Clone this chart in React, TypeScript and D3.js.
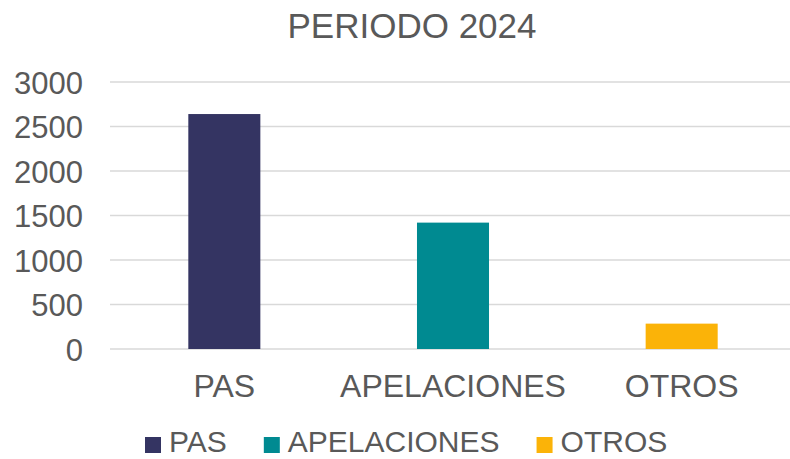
import React, { useEffect, useRef } from 'react';
import * as d3 from 'd3';

const WIDTH = 790;
const HEIGHT = 459;
const PLOT = { left: 110, right: 796, top: 82, bottom: 349 };

const categories = ['PAS', 'APELACIONES', 'OTROS'];
const values = [2640, 1420, 285];
const colors = ['#343462', '#008A91', '#FBB308'];
const yTicks = [0, 500, 1000, 1500, 2000, 2500, 3000];
const title = 'PERIODO 2024';

const TEXT = '#595959';
const FONT = 'Liberation Sans, Arial, sans-serif';

export default function App() {
  const ref = useRef<SVGSVGElement>(null);

  useEffect(() => {
    if (!ref.current) return;
    const svg = d3.select(ref.current);
    svg.selectAll('*').remove();

    const x = d3
      .scaleBand<string>()
      .domain(categories)
      .range([PLOT.left, PLOT.right])
      .paddingInner(0.685)
      .paddingOuter(0.3425);

    const y = d3.scaleLinear().domain([0, 3000]).range([PLOT.bottom, PLOT.top]);

    // title
    svg
      .append('text')
      .attr('x', 412)
      .attr('y', 38)
      .attr('text-anchor', 'middle')
      .style('font-family', FONT)
      .style('font-size', '35px')
      .style('fill', TEXT)
      .text(title);

    // gridlines
    svg
      .append('g')
      .selectAll('line')
      .data(yTicks)
      .enter()
      .append('line')
      .attr('x1', PLOT.left)
      .attr('x2', PLOT.right)
      .attr('y1', (d) => y(d))
      .attr('y2', (d) => y(d))
      .attr('stroke', '#D9D9D9')
      .attr('stroke-width', 1.5);

    // y axis labels
    const yAxis = d3
      .axisLeft(y)
      .tickValues(yTicks)
      .tickSize(0)
      .tickPadding(0)
      .tickFormat((d) => String(d));
    const yg = svg
      .append('g')
      .attr('transform', `translate(83, 0)`)
      .call(yAxis);
    yg.select('.domain').remove();
    yg.selectAll('.tick text')
      .attr('fill', TEXT)
      .style('font-family', FONT)
      .style('font-size', '31px')
      .attr('dy', '0.36em');

    // bars
    svg
      .append('g')
      .selectAll('rect')
      .data(values)
      .enter()
      .append('rect')
      .attr('x', (_, i) => x(categories[i])!)
      .attr('width', x.bandwidth())
      .attr('y', (d) => y(d))
      .attr('height', (d) => y(0) - y(d))
      .attr('fill', (_, i) => colors[i]);

    // x axis labels
    const xAxis = d3.axisBottom(x).tickSize(0).tickPadding(0);
    const xg = svg
      .append('g')
      .attr('transform', `translate(0, ${PLOT.bottom})`)
      .call(xAxis);
    xg.select('.domain').remove();
    xg.selectAll('.tick text')
      .attr('fill', TEXT)
      .attr('y', 48)
      .attr('dy', 0)
      .style('font-family', FONT)
      .style('font-size', '32px');

    // legend, laid out from the measured text widths
    const legend = svg.append('g').attr('transform', 'translate(145, 437)');
    let cx = 0;
    categories.forEach((c, i) => {
      const item = legend.append('g').attr('transform', `translate(${cx}, 0)`);
      item
        .append('rect')
        .attr('width', 16)
        .attr('height', 16)
        .attr('fill', colors[i]);
      const t = item
        .append('text')
        .attr('x', 24)
        .attr('y', 15)
        .style('font-family', FONT)
        .style('font-size', '30px')
        .style('fill', TEXT)
        .text(c);
      const w = (t.node() as SVGTextElement).getComputedTextLength();
      cx += 24 + w + 37;
    });
  }, []);

  return (
    <svg
      ref={ref}
      width={WIDTH}
      height={HEIGHT}
      style={{ position: 'absolute', left: 0, top: 0, background: '#fff', overflow: 'hidden' }}
    />
  );
}
